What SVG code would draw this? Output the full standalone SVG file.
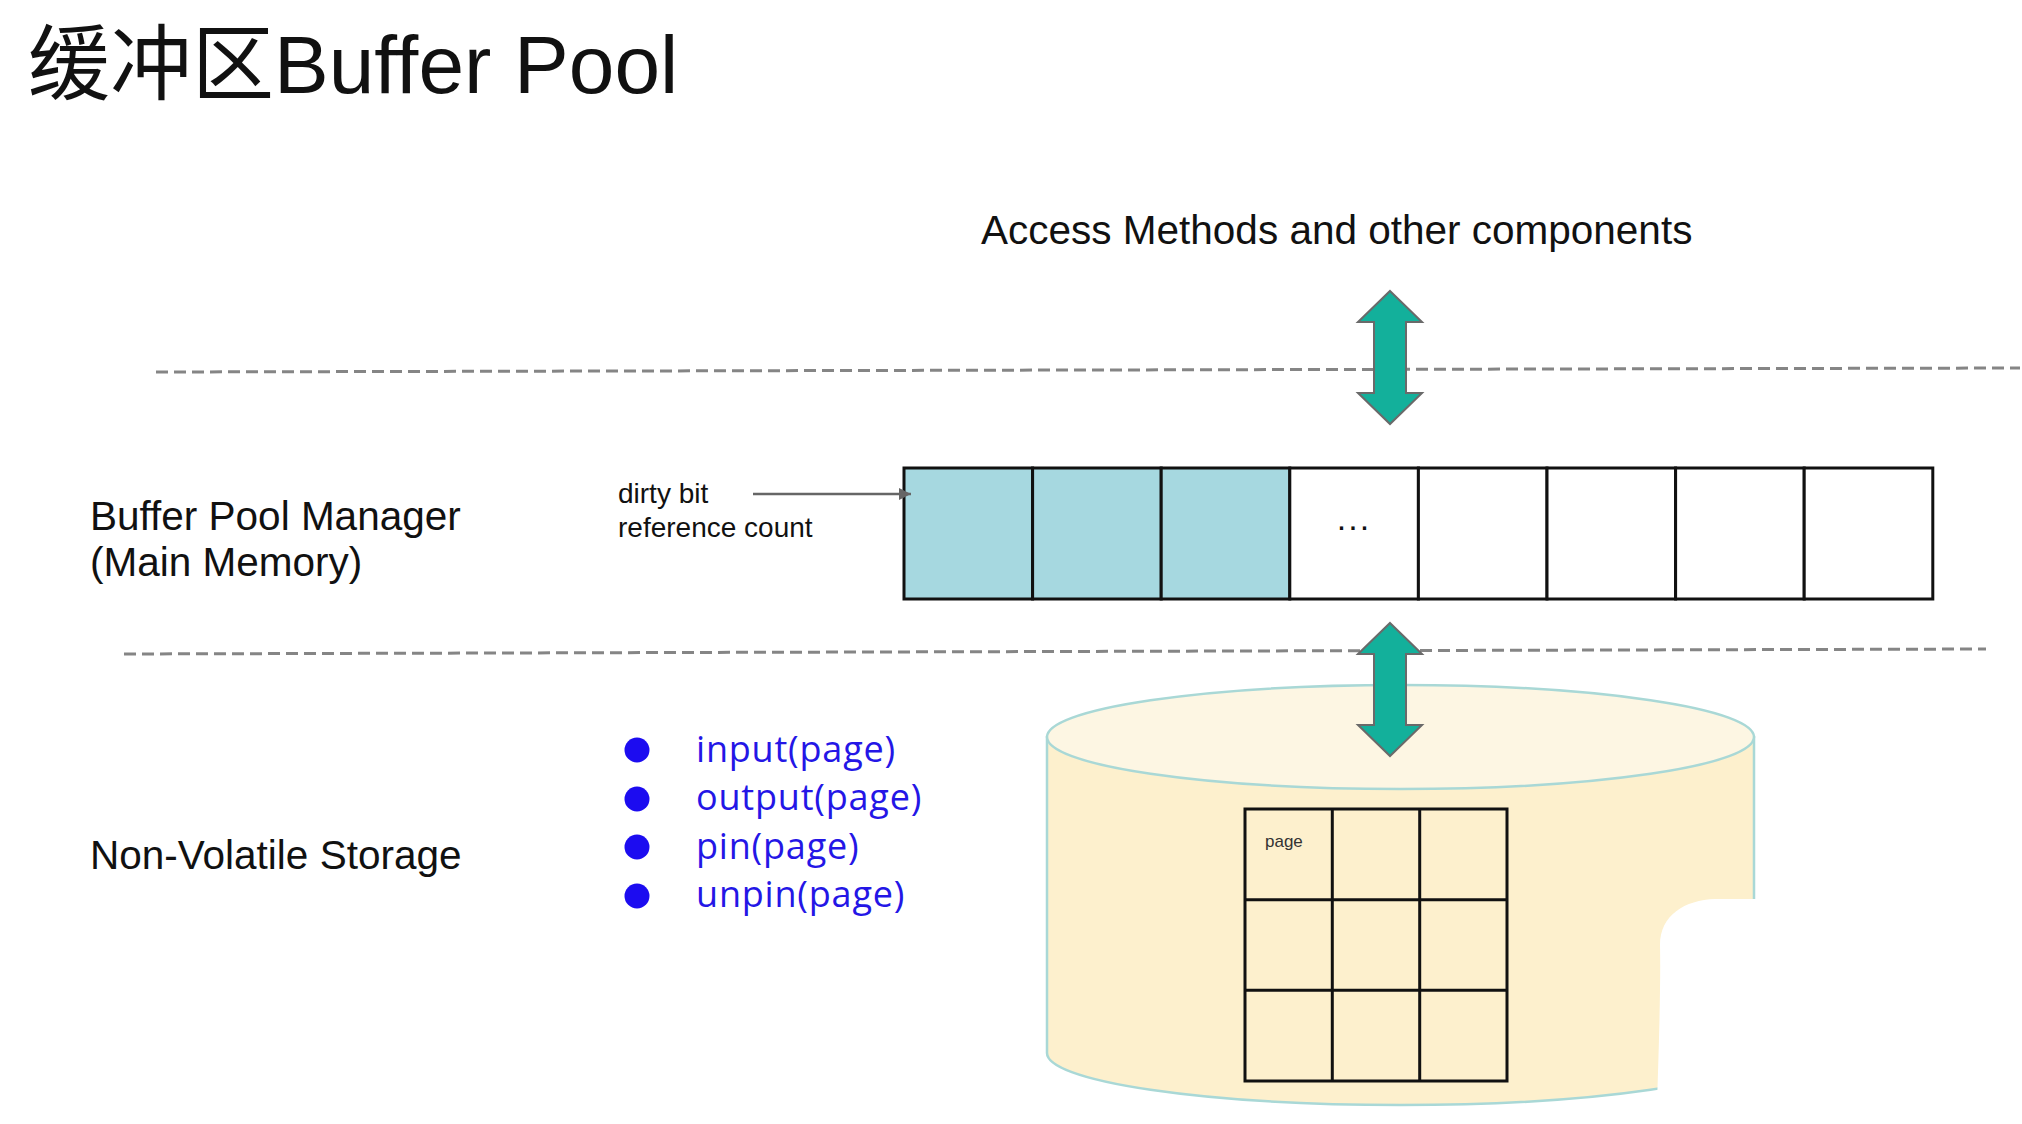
<svg xmlns="http://www.w3.org/2000/svg" width="2022" height="1124" viewBox="0 0 2022 1124">
<defs>
<style>
.t{font-family:"Liberation Sans",Arial,"Noto Sans CJK SC",sans-serif;fill:#111}
.lbl{font-size:40.5px}
.sm{font-size:28px}
.api{font-family:"Open Sans","Liberation Sans",sans-serif;font-size:36px;letter-spacing:0.8px;fill:#2416e6}
.dot{fill:#1c0cf0}
.dash{stroke:#858585;stroke-width:3;stroke-dasharray:12 6;fill:none}
.cell{stroke:#111;stroke-width:3}
.full{fill:#a6d8e0}
.empty{fill:#ffffff}
.dbl{fill:#13b09b;stroke:#6a6a6a;stroke-width:2;stroke-linejoin:miter}
.grid{fill:none;stroke:#111;stroke-width:3}
.cyl{stroke:#a9d8d6;stroke-width:2.5}
</style>
<marker id="ah" viewBox="0 0 10 10" refX="10" refY="5" markerWidth="5" markerHeight="5" orient="auto" markerUnits="strokeWidth">
<path d="M0,0 L10,5 L0,10 Z" fill="#666"/>
</marker>
<polygon id="darrow" class="dbl" points="0,0 32,31 16,31 16,102 32,102 0,133 -32,102 -16,102 -16,31 -32,31"/>
</defs>
<rect width="2022" height="1124" fill="#ffffff"/>

<g id="title">
<text class="t" x="28" y="93" font-size="82"><tspan font-family="'Noto Sans CJK SC',sans-serif">缓冲区</tspan>Buffer Pool</text>
</g>

<g id="layer-lines">
<line class="dash" x1="156" y1="372" x2="2020" y2="368"/>
<line class="dash" x1="124" y1="654" x2="1986" y2="649"/>
</g>

<g id="access-methods">
<text class="t lbl" x="981" y="244">Access Methods and other components</text>
</g>

<g id="label-bpm">
<text class="t lbl" x="90" y="530">Buffer Pool Manager</text>
<text class="t lbl" x="90" y="576">(Main Memory)</text>
</g>

<g id="label-nvs">
<text class="t lbl" x="90" y="869">Non-Volatile Storage</text>
</g>

<g id="frame-note">
<text class="t sm" x="618" y="503">dirty bit</text>
<text class="t sm" x="618" y="537">reference count</text>
</g>

<g id="buffer-pool">
<rect class="cell full" x="904" y="468" width="128.6" height="131"/>
<rect class="cell full" x="1032.6" y="468" width="128.6" height="131"/>
<rect class="cell full" x="1161.2" y="468" width="128.6" height="131"/>
<rect class="cell empty" x="1289.8" y="468" width="128.6" height="131"/>
<rect class="cell empty" x="1418.4" y="468" width="128.6" height="131"/>
<rect class="cell empty" x="1547" y="468" width="128.6" height="131"/>
<rect class="cell empty" x="1675.6" y="468" width="128.6" height="131"/>
<rect class="cell empty" x="1804.2" y="468" width="128.6" height="131"/>
<text class="t" x="1354" y="530" font-size="34" text-anchor="middle" letter-spacing="2">...</text>
</g>

<g id="disk">
<path d="M1047,737 L1047,1053 A353.5,52 0 0 0 1754,1053 L1754,737 Z" fill="#fdf0cd" class="cyl"/>
<ellipse cx="1400.5" cy="737" rx="353.5" ry="52" fill="#fdf6e3" class="cyl"/>
<g class="grid">
<rect x="1245" y="809" width="262" height="272"/>
<line x1="1332.3" y1="809" x2="1332.3" y2="1081"/>
<line x1="1419.7" y1="809" x2="1419.7" y2="1081"/>
<line x1="1245" y1="899.7" x2="1507" y2="899.7"/>
<line x1="1245" y1="990.3" x2="1507" y2="990.3"/>
</g>
<text x="1265" y="847" font-family="'Liberation Sans',Arial,sans-serif" font-size="17" fill="#333">page</text>
<path d="M1657,1110 C1658,1070 1661,990 1660,945 C1660,915 1685,900 1715,899 L1765,899 L1765,1110 Z" fill="#ffffff"/>
</g>

<g id="api-list">
<circle class="dot" cx="637" cy="750" r="12.5"/>
<circle class="dot" cx="637" cy="799" r="12.5"/>
<circle class="dot" cx="637" cy="847" r="12.5"/>
<circle class="dot" cx="637" cy="896" r="12.5"/>
<text class="api" x="696" y="762">input(page)</text>
<text class="api" x="696" y="810">output(page)</text>
<text class="api" x="696" y="859">pin(page)</text>
<text class="api" x="696" y="907">unpin(page)</text>
</g>

<g id="connectors">
<line x1="753" y1="494" x2="911" y2="494" stroke="#666" stroke-width="2.5" marker-end="url(#ah)"/>
<use href="#darrow" x="1390" y="291"/>
<use href="#darrow" x="1390" y="623"/>
</g>
</svg>
